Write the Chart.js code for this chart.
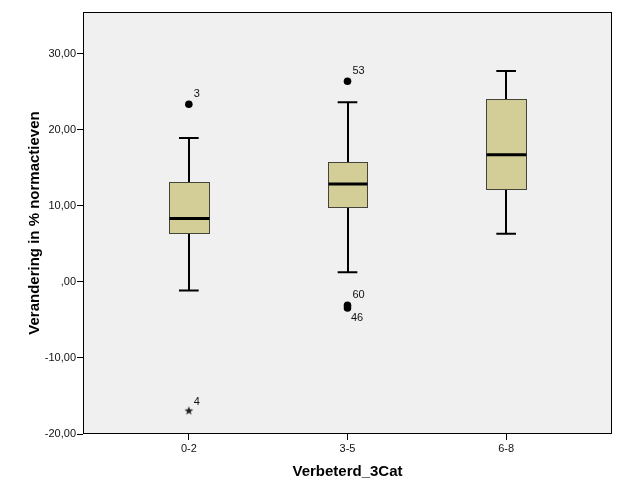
<!DOCTYPE html>
<html>
<head>
<meta charset="utf-8">
<script src="https://cdn.jsdelivr.net/npm/chart.js@4.4.1/dist/chart.umd.min.js"></script>
<style>
  body { margin: 0; background: #fff; }
</style>
</head>
<body>
<canvas id="myChart" width="627" height="502"></canvas>
<script>
// data
const categories = ['0-2', '3-5', '6-8'];
const whiskerLow = [-1.15, 1.27, 6.32];
const q1 = [6.40, 9.79, 12.20];
const median = [8.30, 12.86, 16.68];
const q3 = [13.08, 15.76, 23.98];
const whiskerHigh = [18.88, 23.58, 27.71];

// outliers (circles) and extremes (stars), with case numbers
const outlierCat = [0, 1, 1, 1];
const outlierValue = [23.32, 26.35, -3.10, -3.45];
const outlierId = ['3', '53', '60', '46'];
const extremeCat = [0];
const extremeValue = [-16.92];
const extremeId = ['4'];

const yTicks = [-20, -10, 0, 10, 20, 30];

const FONT = "'Liberation Sans', Arial, sans-serif";

// small filled star used as point style
const starImg = document.createElement('canvas');
starImg.width = 10;
starImg.height = 10;
(() => {
  const c = starImg.getContext('2d');
  c.fillStyle = '#222';
  c.beginPath();
  for (let i = 0; i < 10; i += 1) {
    const r = i % 2 === 0 ? 4.6 : 1.9;
    const a = -Math.PI / 2 + (i * Math.PI) / 5;
    const px = 5 + r * Math.cos(a);
    const py = 5.4 + r * Math.sin(a);
    if (i === 0) c.moveTo(px, py); else c.lineTo(px, py);
  }
  c.closePath();
  c.fill();
})();

const boxPlugin = {
  id: 'boxPlugin',
  beforeDraw(chart) {
    const { ctx, chartArea: a } = chart;
    ctx.save();
    ctx.fillStyle = '#f0f0f0';
    ctx.fillRect(a.left, a.top, a.right - a.left, a.bottom - a.top);
    ctx.restore();
  },
  beforeDatasetsDraw(chart) {
    const { ctx } = chart;
    const xs = chart.scales.x;
    const ys = chart.scales.y;
    const boxHalf = 0.125;
    const capHalf = 0.062;
    ctx.save();
    categories.forEach((cat, i) => {
      const cx = Math.round(xs.getPixelForValue(i));
      const bl = Math.round(xs.getPixelForValue(i - boxHalf)) + 0.5;
      const br = Math.round(xs.getPixelForValue(i + boxHalf)) + 0.5;
      const cl = xs.getPixelForValue(i - capHalf);
      const cr = xs.getPixelForValue(i + capHalf);
      const yLo = ys.getPixelForValue(whiskerLow[i]);
      const yQ1 = Math.round(ys.getPixelForValue(q1[i])) + 0.5;
      const yMed = ys.getPixelForValue(median[i]);
      const yQ3 = Math.round(ys.getPixelForValue(q3[i])) + 0.5;
      const yHi = ys.getPixelForValue(whiskerHigh[i]);

      // whiskers
      ctx.strokeStyle = '#000';
      ctx.lineWidth = 2;
      ctx.beginPath();
      ctx.moveTo(cx, yHi); ctx.lineTo(cx, yQ3);
      ctx.moveTo(cx, yQ1); ctx.lineTo(cx, yLo);
      ctx.moveTo(cl, yHi); ctx.lineTo(cr, yHi);
      ctx.moveTo(cl, yLo); ctx.lineTo(cr, yLo);
      ctx.stroke();

      // box
      ctx.fillStyle = '#d3ce98';
      ctx.fillRect(bl, yQ3, br - bl, yQ1 - yQ3);
      ctx.strokeStyle = '#45443a';
      ctx.lineWidth = 1;
      ctx.strokeRect(bl, yQ3, br - bl, yQ1 - yQ3);

      // median
      ctx.strokeStyle = '#000';
      ctx.lineWidth = 3;
      ctx.beginPath();
      ctx.moveTo(bl, yMed); ctx.lineTo(br, yMed);
      ctx.stroke();
    });
    ctx.restore();
  },
  afterDraw(chart) {
    const { ctx, chartArea: a } = chart;
    const xs = chart.scales.x;
    const ys = chart.scales.y;
    ctx.save();
    ctx.strokeStyle = '#000';
    ctx.lineWidth = 1;
    ctx.strokeRect(Math.round(a.left) + 0.5, Math.round(a.top) + 0.5,
      Math.round(a.right - a.left) - 1, Math.round(a.bottom - a.top) - 1);

    // case labels
    ctx.font = `11px ${FONT}`;
    ctx.fillStyle = '#111';
    ctx.textBaseline = 'middle';
    ctx.textAlign = 'left';
    outlierValue.forEach((v, k) => {
      const px = xs.getPixelForValue(outlierCat[k]);
      const py = ys.getPixelForValue(v);
      const below = outlierValue.some((w, j) => j !== k && outlierCat[j] === outlierCat[k]
        && Math.abs(w - v) < 1 && w > v);
      ctx.fillText(outlierId[k], px + (below ? 3.5 : 5), py + (below ? 9.5 : -10));
    });
    extremeValue.forEach((v, k) => {
      const px = xs.getPixelForValue(extremeCat[k]);
      const py = ys.getPixelForValue(v);
      ctx.fillText(extremeId[k], px + 5, py - 8.5);
    });
    ctx.restore();
  },
};

const ctx = document.getElementById('myChart');
// eslint-disable-next-line no-new
new Chart(ctx, {
  type: 'scatter',
  data: {
    datasets: [
      {
        label: 'outliers',
        data: outlierValue.map((v, k) => ({ x: outlierCat[k], y: v })),
        pointStyle: 'circle',
        radius: 3.8,
        backgroundColor: '#000',
        borderColor: '#000',
        borderWidth: 0,
      },
      {
        label: 'extremes',
        data: extremeValue.map((v, k) => ({ x: extremeCat[k], y: v })),
        pointStyle: starImg,
      },
    ],
  },
  options: {
    responsive: false,
    animation: false,
    layout: { padding: { top: 12, right: 15, left: 0, bottom: 0 } },
    plugins: {
      legend: { display: false },
      tooltip: { enabled: false },
    },
    scales: {
      x: {
        type: 'linear',
        min: -0.667,
        max: 2.667,
        afterBuildTicks: (scale) => { scale.ticks = categories.map((c, i) => ({ value: i })); },
        afterFit: (scale) => { scale.height = 68; },
        grid: { drawOnChartArea: false, drawTicks: true, tickLength: 6, tickColor: '#000' },
        border: { display: false },
        ticks: {
          padding: 2,
          color: '#111',
          font: { family: FONT, size: 11 },
          callback: (value) => categories[value],
        },
        title: {
          display: true,
          text: 'Verbeterd_3Cat',
          color: '#000',
          font: { family: FONT, size: 15, weight: 'bold' },
          padding: { top: 0, bottom: 21 },
        },
      },
      y: {
        min: -20,
        max: 35.45,
        afterBuildTicks: (scale) => { scale.ticks = yTicks.map((v) => ({ value: v })); },
        afterFit: (scale) => { scale.width = 83; },
        grid: { drawOnChartArea: false, drawTicks: true, tickLength: 6, tickColor: '#000' },
        border: { display: false },
        ticks: {
          padding: 1,
          color: '#111',
          font: { family: FONT, size: 11 },
          callback: (value) => (value === 0 ? ',00' : value.toFixed(2).replace('.', ',')),
        },
        title: {
          display: true,
          text: 'Verandering in % normactieven',
          color: '#000',
          font: { family: FONT, size: 15, weight: 'bold' },
          padding: { top: 26, bottom: 0 },
        },
      },
    },
  },
  plugins: [boxPlugin],
});
</script>
</body>
</html>
